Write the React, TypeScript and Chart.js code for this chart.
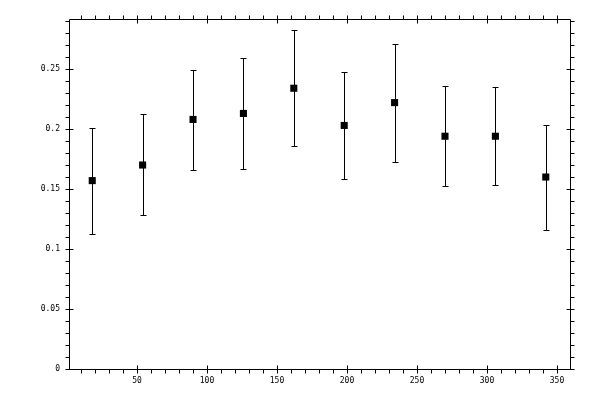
import { useEffect, useRef } from "react"
import { Chart, registerables } from "chart.js"

Chart.register(...registerables)

// x positions of the points (degrees) and measured values
const angles = [18, 54, 90, 126, 162, 198, 234, 270, 306, 342]
const values = [0.157, 0.17, 0.208, 0.213, 0.234, 0.203, 0.222, 0.194, 0.194, 0.16]
const upper = [0.201, 0.2125, 0.249, 0.259, 0.2825, 0.2475, 0.271, 0.236, 0.235, 0.2035]
const lower = [0.1125, 0.128, 0.166, 0.167, 0.186, 0.158, 0.1725, 0.1525, 0.1535, 0.116]

const xTicks = [50, 100, 150, 200, 250, 300, 350]
const yTicks = [0, 0.05, 0.1, 0.15, 0.2, 0.25]

const fontFamily = "'DejaVu Sans Mono', monospace"

// error bars, frame and tick marks (major ticks cross the frame, minor ones point out)
const framePlugin = {
  id: "frame",
  beforeDatasetsDraw(chart: any) {
    const { ctx } = chart
    const xs = chart.scales.x
    const ys = chart.scales.y
    ctx.save()
    ctx.strokeStyle = "#000"
    ctx.lineWidth = 1
    ctx.beginPath()
    angles.forEach((a, i) => {
      const px = Math.round(xs.getPixelForValue(a)) + 0.5
      const top = Math.round(ys.getPixelForValue(upper[i])) + 0.5
      const bot = Math.round(ys.getPixelForValue(lower[i])) + 0.5
      ctx.moveTo(px, top)
      ctx.lineTo(px, bot)
      ctx.moveTo(px - 3, top)
      ctx.lineTo(px + 3, top)
      ctx.moveTo(px - 3, bot)
      ctx.lineTo(px + 3, bot)
    })
    ctx.stroke()
    ctx.restore()
  },
  afterDraw(chart: any) {
    const { ctx, chartArea } = chart
    const xs = chart.scales.x
    const ys = chart.scales.y
    const l = Math.round(chartArea.left) + 0.5
    const r = Math.round(chartArea.right) + 0.5
    const t = Math.round(chartArea.top) + 0.5
    const b = Math.round(chartArea.bottom) + 0.5
    ctx.save()
    ctx.strokeStyle = "#000"
    ctx.lineWidth = 1
    ctx.beginPath()
    ctx.rect(l, t, r - l, b - t)
    for (let v = 10; v <= 350; v += 10) {
      const px = Math.round(xs.getPixelForValue(v)) + 0.5
      if (px < l || px > r) continue
      const major = v % 50 === 0
      ctx.moveTo(px, major ? b - 4 : b)
      ctx.lineTo(px, b + 4)
      ctx.moveTo(px, t - 4)
      ctx.lineTo(px, major ? t + 4 : t)
    }
    for (let k = 0; k <= 29; k++) {
      const py = Math.round(ys.getPixelForValue(k / 100)) + 0.5
      if (py < t || py > b) continue
      const major = k % 5 === 0
      ctx.moveTo(l - 4, py)
      ctx.lineTo(major ? l + 4 : l, py)
      ctx.moveTo(major ? r - 4 : r, py)
      ctx.lineTo(r + 4, py)
    }
    ctx.stroke()
    ctx.restore()
  },
}

function ErrorBarChart() {
  const chartRef = useRef<HTMLCanvasElement>(null)
  const chartInstance = useRef<Chart | null>(null)

  useEffect(() => {
    if (!chartRef.current) return
    if (chartInstance.current) chartInstance.current.destroy()

    const ctx = chartRef.current.getContext("2d")
    if (!ctx) return

    chartInstance.current = new Chart(ctx, {
      type: "scatter",
      data: {
        datasets: [
          {
            data: angles.map((a, i) => ({ x: a, y: values[i] })),
            pointStyle: "rect",
            pointRadius: 5,
            pointBorderWidth: 0,
            backgroundColor: "#000",
            borderColor: "#000",
          },
        ],
      },
      options: {
        animation: false,
        responsive: true,
        maintainAspectRatio: false,
        layout: { padding: { left: 0, top: 19, right: 30, bottom: 0 } },
        plugins: {
          legend: { display: false },
          tooltip: { enabled: false },
        },
        scales: {
          x: {
            type: "linear",
            min: 1.4,
            max: 359.3,
            grid: { display: false, drawTicks: false },
            border: { display: false },
            afterBuildTicks: (scale: any) => {
              scale.ticks = xTicks.map((v) => ({ value: v }))
            },
            afterFit: (scale: any) => {
              scale.height = 31
            },
            ticks: {
              color: "#000",
              padding: 7,
              maxRotation: 0,
              font: { family: fontFamily, size: 8 },
              callback: (v: any) => String(v),
            },
          },
          y: {
            type: "linear",
            min: 0,
            max: 0.2917,
            grid: { display: false, drawTicks: false },
            border: { display: false },
            afterBuildTicks: (scale: any) => {
              scale.ticks = yTicks.map((v) => ({ value: v }))
            },
            afterFit: (scale: any) => {
              scale.width = 69
            },
            ticks: {
              color: "#000",
              padding: 9,
              font: { family: fontFamily, size: 8 },
              callback: (v: any) => String(+Number(v).toFixed(2)),
            },
          },
        },
      },
      plugins: [framePlugin],
    })

    return () => {
      if (chartInstance.current) {
        chartInstance.current.destroy()
        chartInstance.current = null
      }
    }
  }, [])

  return (
    <div style={{ position: "absolute", left: 0, top: 0, width: 600, height: 400, background: "#fff" }}>
      <canvas ref={chartRef}></canvas>
    </div>
  )
}

export default function App() {
  return <ErrorBarChart />
}
